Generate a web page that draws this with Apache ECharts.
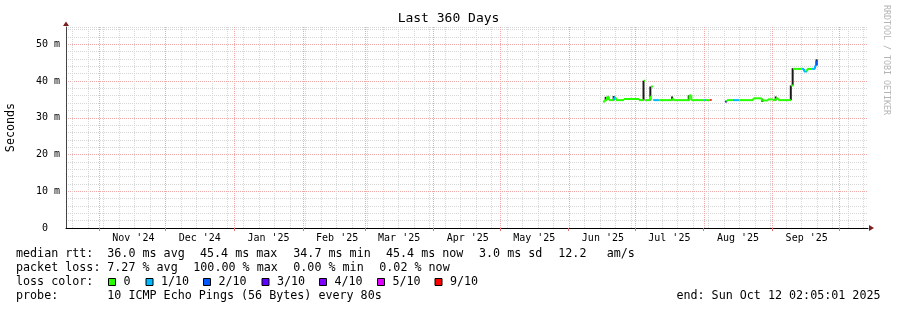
<!DOCTYPE html>
<html><head><meta charset="utf-8">
<script src="https://cdn.jsdelivr.net/npm/echarts@6/dist/echarts.min.js"></script>
<style>html,body{margin:0;padding:0;background:#fff}#c{width:897px;height:310px}</style>
</head><body><div id="c"></div>
<script>
// ---------------- data ----------------
const monthStarts = ['2024-11-01','2024-12-01','2025-01-01','2025-02-01','2025-03-01','2025-04-01','2025-05-01','2025-06-01','2025-07-01','2025-08-01','2025-09-01','2025-10-01'];
const monthLabels = ["Nov '24","Dec '24","Jan '25","Feb '25","Mar '25","Apr '25","May '25","Jun '25","Jul '25","Aug '25","Sep '25"];
const yTickValues = [0,10,20,30,40,50];

const medianDates = [
 '2025-06-16T12','2025-06-17T10','2025-06-18T08','2025-06-19T05','2025-06-21T12','2025-06-22T10','2025-06-26T00','2025-07-02T18',
 '2025-07-05T01','2025-07-05T12','2025-07-07T18','2025-07-08T05','2025-07-09T02','2025-07-09T13','2025-07-11T19','2025-07-17T20',
 '2025-07-18T08','2025-07-25T14','2025-07-26T10','2025-08-01T06','2025-08-02T01','2025-08-03T23','2025-08-04T14',
 '2025-08-10T14','2025-08-11T12','2025-08-14T05','2025-08-17T02','2025-08-23T10','2025-08-27T05','2025-08-30T00','2025-09-01T07',
 '2025-09-02T15','2025-09-03T16','2025-09-09T10','2025-09-10T11','2025-09-14T06','2025-09-15T07','2025-09-16T18','2025-09-18T22',
 '2025-09-20T06','2025-09-20T22','2025-09-21T12'];
const medianValues = [
 34.4,34.8,35.7,34.8,35.5,34.8,35.1,34.8,
 40.1,34.8,35.7,38.5,34.8,34.8,34.8,35.2,
 34.8,36.1,34.8,34.8,34.8,34.8,null,
 34.4,34.8,34.8,34.8,35.3,34.7,35.0,34.8,
 35.3,34.8,38.8,43.3,43.3,42.6,43.3,43.3,
 44.2,45.4,null];
const medianLoss = [
 0,0,0,0,1,0,0,0,
 0,0,0,0,0,1,0,0,
 0,0,0,1,0,9,0,
 3,0,1,0,0,0,0,0,
 0,0,0,0,1,1,0,1,
 1,2,0];

const smokeDates = ['2025-06-17T18','2025-06-21T08','2025-07-04T20','2025-07-07T22','2025-07-17T18','2025-07-25T06','2025-08-27T12','2025-09-02T12','2025-09-09T08','2025-09-10T04','2025-09-20T23'];
const smokeLow  = [34.7,34.7,34.7,34.7,34.7,34.7,34.3,34.7,34.8,38.8,44.3];
const smokeHigh = [35.7,35.9,40.1,38.5,35.8,36.1,35.2,35.8,38.8,43.5,45.9];

const lossLevels = [0,1,2,3,4,5,9];
const lossLabels = ['0','1/10','2/10','3/10','4/10','5/10','9/10'];
const lossColors = ['#26ff00','#00b8ff','#0059ff','#5e00ff','#7e00ff','#dd00ff','#ff0000'];

const statRow1 = ['median rtt:','36.0 ms avg','45.4 ms max','34.7 ms min','45.4 ms now','3.0 ms sd','12.2','am/s'];
const statRow2 = ['packet loss:','7.27 % avg','100.00 % max','0.00 % min','0.02 % now'];
const probeText = ['probe:','10 ICMP Echo Pings (56 Bytes) every 80s'];
const endText = 'end: Sun Oct 12 02:05:01 2025';
const titleText = 'Last 360 Days';
const yName = 'Seconds';
const watermark = 'RRDTOOL / TOBI OETIKER';

// ---------------- helpers ----------------
const DAY = 86400000;
const FONT = '"DejaVu Sans Mono", monospace';
function ts(s){
  const p = s.split('T'); const d = p[0].split('-').map(Number);
  return Date.UTC(d[0], d[1]-1, d[2], p[1] ? Number(p[1]) : 0);
}
const xMin = Date.UTC(2024,9,17,2,5,1);
const xMax = xMin + 362.1*DAY;
const monthTimes = monthStarts.map(ts);
const labelTimes = monthLabels.map((l,i)=> monthTimes[i] + 15.5*DAY);
const labelMap = {}; labelTimes.forEach((t,i)=>{ labelMap[t] = monthLabels[i]; });
const weekTimes = [];
for (let t = Date.UTC(2024,9,20); t <= xMax; t += 7*DAY) weekTimes.push(t);
function lossColor(l){ const k = lossLevels.indexOf(l); return lossColors[k < 0 ? 0 : k]; }

const medianT = medianDates.map(ts);
const medianData = medianT.map((t,i)=>[t, medianValues[i] == null ? '-' : medianValues[i], medianLoss[i]]);
const smokeData = smokeDates.map((d,i)=>[ts(d), smokeLow[i], smokeHigh[i]]);

const MAJ = '#f0a8a8', MIN = '#d6d6d6';
const vGridData = weekTimes.map(t=>[t,0]).concat(monthTimes.map(t=>[t,1]));

const chart = echarts.init(document.getElementById('c'));

const option = {
  animation:false,
  backgroundColor:'#fff',
  grid:{left:66,right:29,top:27,bottom:82},
  xAxis:{type:'value',min:xMin,max:xMax,
    axisLine:{show:true,onZero:false,lineStyle:{color:'#000',width:1}},
    axisTick:{show:true,customValues:monthTimes,length:3,lineStyle:{color:'#e07070'}},
    axisLabel:{customValues:labelTimes,formatter:v=>labelMap[v]||'',fontFamily:FONT,fontSize:10,color:'#000',margin:5},
    splitLine:{show:false}},
  yAxis:{type:'value',min:0,max:54.7,interval:2,
    axisLine:{show:true,lineStyle:{color:'#444',width:1}},
    axisTick:{show:false},
    axisLabel:{formatter:v=> yTickValues.indexOf(v) >= 0 ? (v===0 ? '0  ' : v+' m') : '',
      fontFamily:FONT,fontSize:10,color:'#000',margin:6,showMaxLabel:false},
    splitLine:{show:true,lineStyle:{color:[MAJ,MIN,MIN,MIN,MIN],type:[1,1],width:1}}},
  series:[
    {type:'custom',name:'vgrid',z:1,silent:true,clip:false,
      encode:{x:0},
      data:vGridData,
      renderItem:function(params,api){
        const cs = params.coordSys;
        const x = Math.round(api.coord([api.value(0),0])[0]) + 0.5;
        const major = api.value(1) === 1;
        return {type:'line',z2: major ? 2 : 1,
          shape:{x1:x,y1:cs.y,x2:x,y2:cs.y+cs.height},
          style:{stroke: major ? MAJ : MIN, lineWidth:1, lineDash:[1,1]}};
      }},
    {type:'custom',name:'smoke',z:3,silent:true,clip:true,
      encode:{x:0,y:[1,2]},
      data:smokeData,
      renderItem:function(params,api){
        const t = api.value(0);
        const top = api.coord([t, api.value(2)]);
        const bot = api.coord([t, api.value(1)]);
        const w = Math.max(1.5, api.size([0.9*DAY,0])[0]);
        return {type:'rect',shape:{x:top[0]-w/2,y:top[1],width:w,height:bot[1]-top[1]},
          style:{fill:'#1b1b1b'}};
      }},
    {type:'custom',name:'median',z:4,silent:true,clip:true,
      encode:{x:0,y:1},
      data:medianData,
      renderItem:function(params,api){
        const i = params.dataIndex;
        const v = medianValues[i];
        if (v == null || i+1 >= medianT.length) return;
        const col = lossColor(medianLoss[i]);
        const p0 = api.coord([medianT[i], v]);
        const p1 = api.coord([medianT[i+1], v]);
        const ch = [{type:'line',shape:{x1:p0[0],y1:p0[1],x2:p1[0],y2:p1[1]},style:{stroke:col,lineWidth:2}}];
        const pv = medianValues[i-1];
        if (i > 0 && pv != null && Math.abs(pv - v) <= 1.5) {
          const pp = api.coord([medianT[i], pv]);
          ch.push({type:'line',shape:{x1:pp[0],y1:pp[1],x2:p0[0],y2:p0[1]},style:{stroke:col,lineWidth:2}});
        }
        return {type:'group',children:ch};
      }}
  ]
};
chart.setOption(option);

// ---------------- texts / decorations ----------------
const LF = '11.7px ' + FONT;
const g = [];
function txt(s,x,y,extra){
  g.push(Object.assign({type:'text',x:x,y:y,silent:true,
    style:{text:s,font:LF,fill:'#000',align:'left',verticalAlign:'middle'}}, extra||{}));
}
g.push({type:'text',x:448.5,y:19,silent:true,style:{text:titleText,font:'13px '+FONT,fill:'#000',align:'center',verticalAlign:'middle'}});
g.push({type:'text',x:11,y:127.5,rotation:Math.PI/2,silent:true,style:{text:yName,font:'11.7px '+FONT,fill:'#000',align:'center',verticalAlign:'middle'}});
g.push({type:'text',x:886,y:60,rotation:-Math.PI/2,silent:true,style:{text:watermark,font:'8.3px '+FONT,fill:'#b4b4b4',align:'center',verticalAlign:'middle'}});

const r1x = [16,107.3,200,293.3,386,479,558.3,606.7];
statRow1.forEach((s,i)=>txt(s,r1x[i],254.3));
const r2x = [16,107.3,193.3,293.3,379.3];
statRow2.forEach((s,i)=>txt(s,r2x[i],268.3));
txt('loss color:',16,282.3);
const boxX = [108.5,146,203.5,262,319.5,377.5,435];
lossLabels.forEach((l,i)=>{
  g.push({type:'rect',silent:true,shape:{x:boxX[i],y:278.5,width:7,height:7},style:{fill:lossColors[i],stroke:'#000',lineWidth:1}});
  txt(l,boxX[i]+15,282.3);
});
txt(probeText[0],16,296.3);
txt(probeText[1],107.3,296.3);
g.push({type:'text',x:880.5,y:296.3,silent:true,style:{text:endText,font:LF,fill:'#000',align:'right',verticalAlign:'middle'}});

// arrows placed from the axes
const pTop = chart.convertToPixel({gridIndex:0},[xMin,54.7]);
const pRight = chart.convertToPixel({gridIndex:0},[xMax,0]);
const AR = '#7a1f1f';
g.push({type:'polygon',silent:true,shape:{points:[[pTop[0]-3,pTop[1]-1],[pTop[0]+3,pTop[1]-1],[pTop[0],pTop[1]-5.5]]},style:{fill:AR}});
g.push({type:'polygon',silent:true,shape:{points:[[pRight[0]+1,pRight[1]-3],[pRight[0]+1,pRight[1]+3],[pRight[0]+6,pRight[1]]]},style:{fill:AR}});

chart.setOption({graphic:{elements:g}});
</script></body></html>
